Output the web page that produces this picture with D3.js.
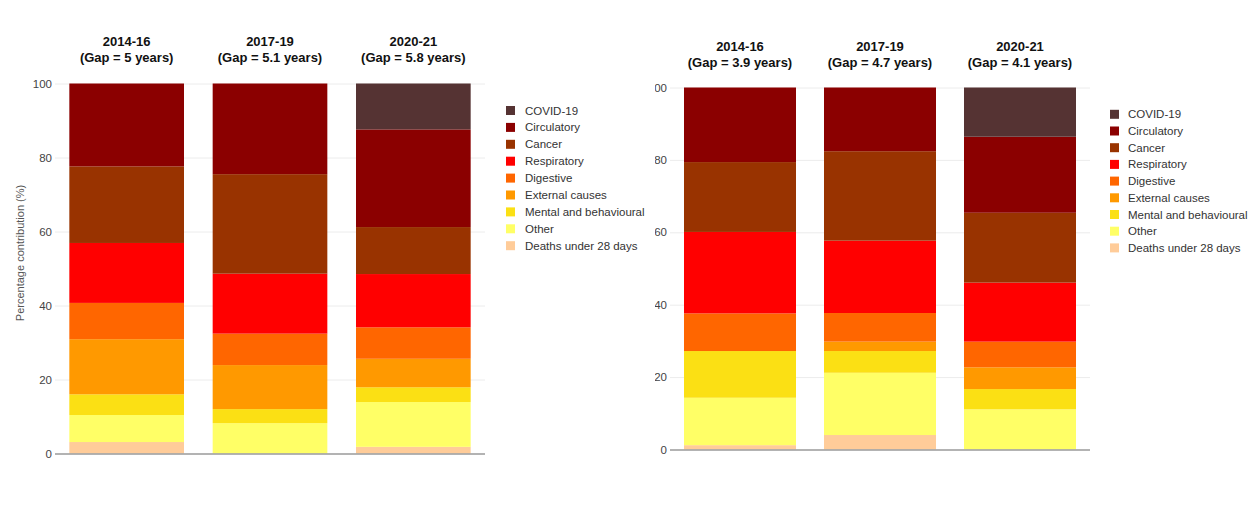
<!DOCTYPE html>
<html>
<head>
<meta charset="utf-8">
<script src="https://cdn.jsdelivr.net/npm/d3@7"></script>
<style>
  html, body { margin: 0; padding: 0; background: #fff; }
  svg { display: block; font-family: "Liberation Sans", Arial, sans-serif; }
</style>
</head>
<body>
<svg id="chart" width="1250" height="507"></svg>
<script>
// ---- Data ----
const periods = ["2014-16", "2017-19", "2020-21"];
const gapsLeft = ["5", "5.1", "5.8"];
const gapsRight = ["3.9", "4.7", "4.1"];
// stacking order, bottom to top
const causes = ["Deaths under 28 days", "Other", "Mental and behavioural", "External causes",
  "Digestive", "Respiratory", "Cancer", "Circulatory", "COVID-19"];
const causeColors = ["#ffcc99", "#ffff66", "#fbe014", "#ff9900",
  "#ff6600", "#ff0000", "#993300", "#8b0000", "#553333"];
// left panel values (%), in causes order
const left2014 = [3.1, 7.3, 5.6, 14.9, 9.8, 16.2, 20.7, 22.4, 0];
const left2017 = [0, 8.2, 3.8, 11.9, 8.5, 16.2, 26.9, 24.5, 0];
const left2020 = [1.8, 12.1, 4.0, 7.7, 8.5, 14.4, 12.7, 26.4, 12.4];
// right panel values (%), in causes order
const right2014 = [1.2, 13.1, 12.9, 0, 10.4, 22.5, 19.3, 20.6, 0];
const right2017 = [4.0, 17.2, 6.0, 2.6, 7.9, 20.0, 24.7, 17.6, 0];
const right2020 = [0, 11.1, 5.6, 6.0, 7.1, 16.3, 19.3, 21.0, 13.6];
const yTicks = [0, 20, 40, 60, 80, 100];
const yLabel = "Percentage contribution (%)";

const svg = d3.select("#chart");
const defs = svg.append("defs");
defs.append("clipPath").attr("id", "clipRight")
  .append("rect").attr("x", 655).attr("y", 0).attr("width", 595).attr("height", 507);

function buildRows(arrs) {
  return periods.map((p, i) => {
    const row = { period: p };
    causes.forEach((c, j) => row[c] = arrs[i][j]);
    return row;
  });
}

function drawPanel(g, rows, gaps, cfg) {
  const x = d3.scaleBand().domain(periods).range([cfg.x0, cfg.x1])
    .paddingInner(0.2).paddingOuter(0.1);
  const y = d3.scaleLinear().domain([0, 100]).range([cfg.y0, cfg.y1]);

  // gridlines
  g.append("g").selectAll("line").data(yTicks.filter(t => t > 0)).join("line")
    .attr("x1", cfg.x0).attr("x2", cfg.x1)
    .attr("y1", d => y(d) + 0.5).attr("y2", d => y(d) + 0.5)
    .attr("stroke", "#ececec").attr("stroke-width", 1);

  // stacked bars
  const stack = d3.stack().keys(causes)(rows);
  g.append("g").selectAll("g").data(stack).join("g")
    .attr("fill", (d, i) => causeColors[i])
    .selectAll("rect").data(d => d).join("rect")
    .attr("x", d => x(d.data.period))
    .attr("width", x.bandwidth())
    .attr("y", d => y(d[1]))
    .attr("height", d => Math.max(0, y(d[0]) - y(d[1])));

  // y axis
  const ax = g.append("g").attr("transform", `translate(${cfg.x0},0)`)
    .call(d3.axisLeft(y).tickValues(yTicks).tickSize(0).tickPadding(3));
  ax.select(".domain").remove();
  ax.selectAll("text").attr("fill", "#444").attr("font-size", "11.5px")
    .attr("font-family", "\"Liberation Sans\", Arial, sans-serif");

  // baseline
  g.append("line").attr("x1", cfg.x0).attr("x2", cfg.x1)
    .attr("y1", y(0) + 0.5).attr("y2", y(0) + 0.5)
    .attr("stroke", "#9a9a9a").attr("stroke-width", 1.5);

  // titles
  const t = g.append("g").selectAll("text").data(periods).join("text")
    .attr("x", d => x(d) + x.bandwidth() / 2)
    .attr("text-anchor", "middle")
    .attr("font-size", "13px").attr("font-weight", "bold").attr("fill", "#111");
  t.append("tspan").attr("x", d => x(d) + x.bandwidth() / 2).attr("y", cfg.titleY)
    .text(d => d);
  t.append("tspan").attr("x", d => x(d) + x.bandwidth() / 2).attr("y", cfg.titleY + 15.5)
    .text((d, i) => `(Gap = ${gaps[i]} years)`);

  // legend (top to bottom: reverse stacking order)
  const legendItems = causes.map((c, i) => ({ c, col: causeColors[i] })).reverse();
  const lg = g.append("g").selectAll("g").data(legendItems).join("g")
    .attr("transform", (d, i) => `translate(${cfg.legX},${cfg.legY + i * cfg.legStep})`);
  lg.append("rect").attr("x", 0).attr("y", -4.5).attr("width", 9).attr("height", 9)
    .attr("fill", d => d.col);
  lg.append("text").attr("x", cfg.legTextDx).attr("y", 4).attr("font-size", "11.5px")
    .attr("fill", "#333").text(d => d.c);
}

const gl = svg.append("g");
drawPanel(gl, buildRows([left2014, left2017, left2020]), gapsLeft,
  { x0: 55, x1: 485, y0: 453.5, y1: 83.5, titleY: 46, legX: 506, legY: 110.5, legStep: 16.9, legTextDx: 19 });

gl.append("text")
  .attr("transform", "translate(24,253) rotate(-90)")
  .attr("text-anchor", "middle").attr("font-size", "11px").attr("fill", "#555")
  .text(yLabel);

const gr = svg.append("g").attr("clip-path", "url(#clipRight)");
drawPanel(gr, buildRows([right2014, right2017, right2020]), gapsRight,
  { x0: 670, x1: 1090, y0: 449.5, y1: 87.5, titleY: 51, legX: 1110, legY: 114.3, legStep: 16.7, legTextDx: 18 });
</script>
</body>
</html>
